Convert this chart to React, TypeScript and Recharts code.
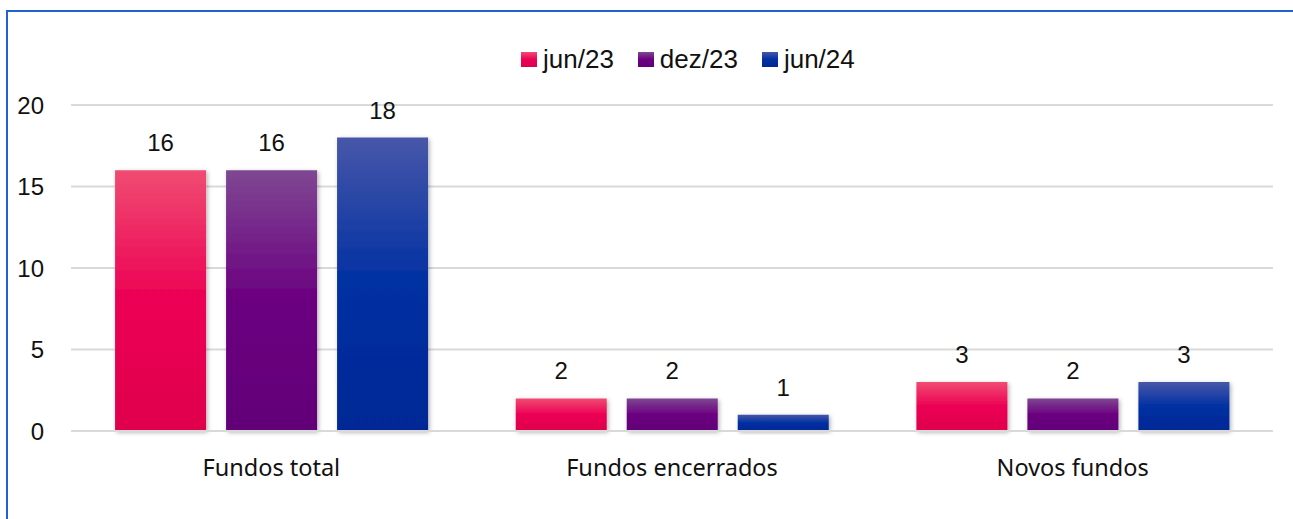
import React from 'react';
import { BarChart, Bar, XAxis, YAxis, CartesianGrid, LabelList } from 'recharts';

const categories = ['Fundos total', 'Fundos encerrados', 'Novos fundos'];
const seriesNames = ['jun/23', 'dez/23', 'jun/24'];
const jun23 = [16, 2, 3];
const dez23 = [16, 2, 2];
const jun24 = [18, 1, 3];
const yTicks = [0, 5, 10, 15, 20];

const data = categories.map((name, i) => ({ name, s0: jun23[i], s1: dez23[i], s2: jun24[i] }));

const gradients = [
  { id: 'g0', stops: ['#F04C72', '#EC0054', '#DF004C'] },
  { id: 'g1', stops: ['#7F4792', '#6B0080', '#620078'] },
  { id: 'g2', stops: ['#4757A9', '#0030A2', '#002895'] },
];

const W = 1293;
const H = 519;

const CatTick = (props: any) => {
  const { x, y, payload } = props;
  return (
    <text x={x} y={y + 37} textAnchor="middle" fontFamily="'Noto Sans'" fontSize={23.5} fill="#111">
      {payload.value}
    </text>
  );
};

const Legendy = () => (
  <div
    style={{
      position: 'absolute',
      left: 521,
      top: 46,
      display: 'flex',
      alignItems: 'center',
      fontFamily: "'Liberation Sans', Arial",
      fontSize: 26,
      color: '#111',
      whiteSpace: 'nowrap',
    }}
  >
    {seriesNames.map((n, i) => (
      <div key={n} style={{ display: 'flex', alignItems: 'center', marginRight: 24 }}>
        <div
          style={{
            width: 16,
            height: 15,
            background: `linear-gradient(${gradients[i].stops[0]}, ${gradients[i].stops[1]} 50%, ${gradients[i].stops[2]})`,
            marginRight: 6,
          }}
        />
        <span style={{ lineHeight: '26px' }}>{n}</span>
      </div>
    ))}
  </div>
);

export default function App() {
  return (
    <div style={{ position: 'absolute', left: 0, top: 0, width: W, height: H, background: '#fff', overflow: 'hidden' }}>
      <div style={{ position: 'absolute', left: 6, top: 10, width: W, height: 2, background: '#1F62D0' }} />
      <div style={{ position: 'absolute', left: 6, top: 10, width: 2, height: H, background: '#1F62D0' }} />
      <BarChart
        width={W}
        height={H}
        data={data}
        margin={{ top: 105, right: 20, bottom: 28, left: 11 }}
        barCategoryGap="11%"
        barGap={20}
      >
        <defs>
          {gradients.map((g) => (
            <linearGradient key={g.id} id={g.id} x1="0" y1="0" x2="0" y2="1">
              <stop offset="0%" stopColor={g.stops[0]} />
              <stop offset="50%" stopColor={g.stops[1]} />
              <stop offset="100%" stopColor={g.stops[2]} />
            </linearGradient>
          ))}
          <filter id="shadow" x="-20%" y="-20%" width="140%" height="140%">
            <feDropShadow dx="1.5" dy="1.5" stdDeviation="2" floodColor="#000" floodOpacity="0.3" />
          </filter>
        </defs>
        <CartesianGrid vertical={false} stroke="#D9D9D9" strokeWidth={2} />
        <XAxis
          dataKey="name"
          height={60}
          axisLine={{ stroke: '#D9D9D9', strokeWidth: 2 }}
          tickLine={false}
          tick={<CatTick />}
          interval={0}
        />
        <YAxis
          domain={[0, 20]}
          ticks={yTicks}
          width={60}
          axisLine={false}
          tickLine={false}
          tickSize={0}
          tickMargin={27}
          tick={{ fontFamily: "'Liberation Sans', Arial", fontSize: 24, fill: '#111' }}
        />
        {['s0', 's1', 's2'].map((k, i) => (
          <Bar key={k} dataKey={k} name={seriesNames[i]} fill={`url(#g${i})`} filter="url(#shadow)" isAnimationActive={false}>
            <LabelList
              dataKey={k}
              position="top"
              offset={19}
              style={{ fontFamily: "'Liberation Sans', Arial", fontSize: 24, fill: '#111' }}
            />
          </Bar>
        ))}
      </BarChart>
      <Legendy />
    </div>
  );
}
